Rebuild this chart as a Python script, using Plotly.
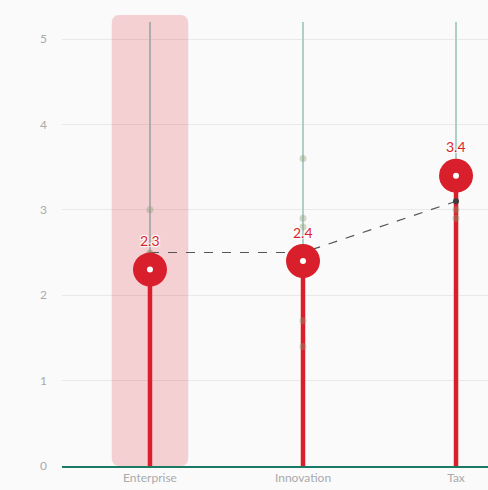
import plotly.graph_objects as go

categories = ["Enterprise", "Innovation", "Tax"]
values = [2.3, 2.4, 3.4]
benchmark = [2.5, 2.5, 3.1]
range_top = [5.2, 5.2, 5.2]
other_cat = ["Enterprise", "Innovation", "Innovation", "Innovation", "Innovation", "Innovation", "Tax", "Tax"]
other_val = [3.0, 3.6, 2.9, 2.8, 1.7, 1.4, 3.0, 2.9]
highlight = "Enterprise"
y_ticks = [0, 1, 2, 3, 4, 5]

RED = "#d91f2b"
TEAL_LINE = "#acd0c7"
GRAY_LINE = "#b2abab"
FONT = "Lato"
SHADOW = "1px 1px 1px #fff, -1px -1px 1px #fff, 1px -1px 1px #fff, -1px 1px 1px #fff"

fig = go.Figure()
xi = list(range(len(categories)))

# thin vertical lines from value to top
for i, c in enumerate(categories):
    fig.add_trace(go.Scatter(
        x=[i, i], y=[values[i], range_top[i]], mode="lines",
        line=dict(color=GRAY_LINE if c == highlight else TEAL_LINE, width=2),
        hoverinfo="skip", showlegend=False))

# red stems
for i, c in enumerate(categories):
    fig.add_trace(go.Scatter(
        x=[i, i], y=[0, values[i]], mode="lines",
        line=dict(color=RED, width=4.5),
        hoverinfo="skip", showlegend=False))

# other dots
fig.add_trace(go.Scatter(
    x=[categories.index(c) for c in other_cat], y=other_val, mode="markers",
    marker=dict(size=7, color="rgba(140,155,115,0.38)"),
    hoverinfo="skip", showlegend=False))

# benchmark dashed line
fig.add_trace(go.Scatter(
    x=xi, y=benchmark, mode="lines+markers",
    line=dict(color="#555555", width=1.2, dash="dash"),
    marker=dict(size=6, color=["rgba(135,150,110,0.6)", "rgba(135,150,110,0.6)", "#3d3d3d"]),
    hoverinfo="skip", showlegend=False))

# big markers
fig.add_trace(go.Scatter(
    x=xi, y=values, mode="markers",
    marker=dict(size=34, color=RED, line=dict(width=0)),
    hoverinfo="skip", showlegend=False))
fig.add_trace(go.Scatter(
    x=xi, y=values, mode="markers",
    marker=dict(size=6, color="white"),
    hoverinfo="skip", showlegend=False))

for i, v in enumerate(values):
    fig.add_annotation(x=i, y=v, text=f"{v:.1f}", showarrow=False, yshift=29,
                       yanchor="middle",
                       font=dict(family=FONT, size=14, color=RED, shadow=SHADOW))

# rounded highlight band
hi = categories.index(highlight)
hw = 0.25
top = 5.28
rx = 0.05
ry = 0.1
x0, x1 = hi - hw, hi + hw
path = (f"M {x0+rx},0 L {x1-rx},0 Q {x1},0 {x1},{ry} L {x1},{top-ry} Q {x1},{top} {x1-rx},{top} "
        f"L {x0+rx},{top} Q {x0},{top} {x0},{top-ry} L {x0},{ry} Q {x0},0 {x0+rx},0 Z")
fig.add_shape(type="path", path=path, xref="x", yref="y",
              fillcolor="rgba(222,40,55,0.2)", line=dict(width=0), layer="between")

fig.update_layout(
    width=488, height=490,
    margin=dict(l=62, r=0, t=10, b=24),
    paper_bgcolor="#fafafa", plot_bgcolor="#fafafa",
    font=dict(family=FONT, color="#aaaaaa", size=12),
    xaxis=dict(tickvals=xi, ticktext=categories, range=[-0.575, 2.209],
               showgrid=False, zeroline=False, showline=True, linecolor="#1b7a64",
               linewidth=2, ticks="", tickfont=dict(size=12, color="#aaaaaa")),
    yaxis=dict(range=[0, 5.34], tickvals=y_ticks, showgrid=True, gridcolor="#e9e9e9",
               gridwidth=1, zeroline=False, ticks="", ticklabelstandoff=14,
               tickfont=dict(size=12, color="#aaaaaa")),
)

fig.write_html("out.html", config={"displayModeBar": False},
               post_script="document.body.style.margin='0';document.body.style.background='#fafafa';")
